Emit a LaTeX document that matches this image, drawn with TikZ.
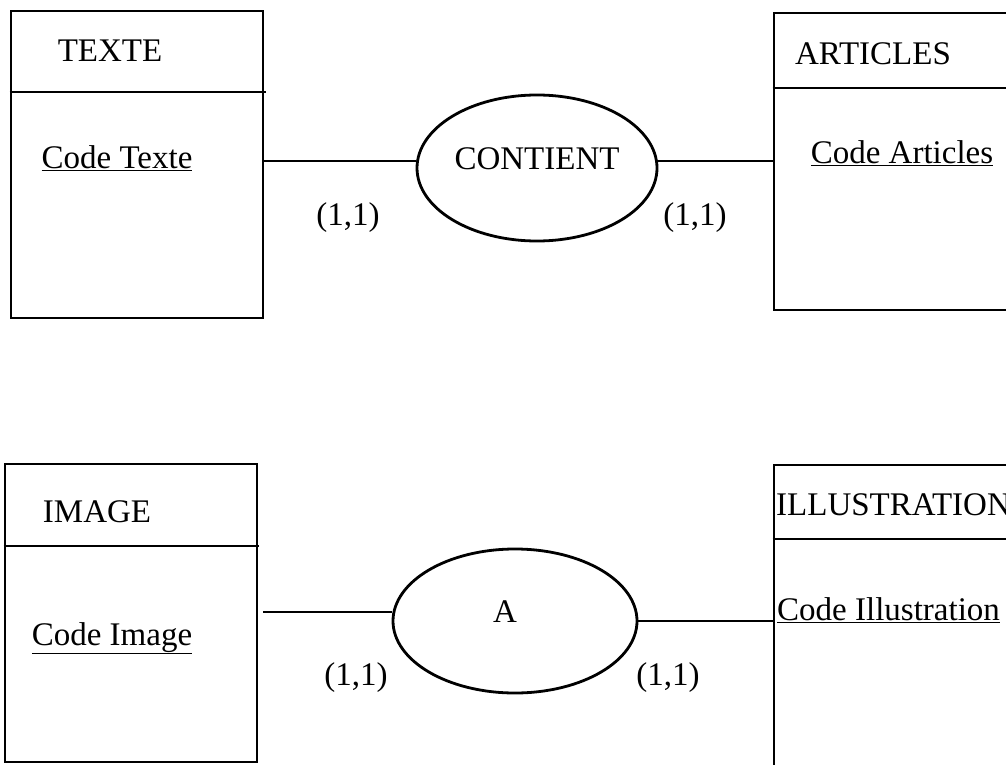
\documentclass[tikz,border=0pt]{standalone}
\usepackage{fontspec}
\setmainfont{Liberation Serif}
\usetikzlibrary{shapes.geometric}
\begin{document}
\begin{tikzpicture}[x=1pt,y=-1pt,
  every node/.style={font=\fontsize{33}{39}\selectfont, inner sep=0pt},
  entity/.style={draw, line width=2.8pt, rectangle, minimum width=#1, fill=none},
  rel/.style={draw, line width=2.8pt, ellipse},
  conn/.style={line width=2.8pt},
  hdr/.style={line width=2.8pt},
  lbl/.style={anchor=base}
]
\useasboundingbox (0,0) rectangle (1006,765);
\clip (0,0) rectangle (1006,765);
\fill[white] (0,0) rectangle (1006,765);

% entities
\node[entity=252pt, minimum height=307pt] (texte) at (137,164.5) {};
\draw[hdr] (texte.west |- 0,92) -- (266,92);
\node[lbl] (texteT) at (110,62) {TEXTE};
\node[lbl] (texteK) at (117,168) {\underline{Code Texte}};

\node[entity=266pt, minimum height=297pt] (articles) at (907,161.5) {};
\draw[hdr] (articles.west |- 0,88) -- (articles.east |- 0,88);
\node[lbl] (articlesT) at (873,65) {ARTICLES};
\node[lbl] (articlesK) at (902,163) {\underline{Code Articles}};

\node[entity=252pt, minimum height=298pt] (image) at (131,613) {};
\draw[hdr] (image.west |- 0,546) -- (259,546);
\node[lbl] (imageT) at (97,522) {IMAGE};
\node[lbl] (imageK) at (112,645) {\underline{Code Image}};

\node[entity=266pt, minimum height=335pt] (illus) at (907,632.5) {};
\draw[hdr] (illus.west |- 0,539) -- (illus.east |- 0,539);
\node[lbl, anchor=base west] (illusT) at (776,515) {ILLUSTRATION};
\node[lbl, anchor=base west] (illusK) at (777,620) {\underline{Code Illustration}};

% relations
\node[rel, minimum width=240pt, minimum height=146pt] (contient) at (537,168) {};
\node[lbl] (contientT) at (537,169) {CONTIENT};
\node[rel, minimum width=244pt, minimum height=144pt] (a) at (515,621) {};
\node[lbl] (aT) at (505,622) {A};

% connectors
\draw[conn] (texte.east |- 0,161) -- (contient.west |- 0,161);
\draw[conn] (contient.east |- 0,161) -- (articles.west |- 0,161);
\coordinate (istart) at (263,612);
\draw[conn] (istart) -- (a.west |- 0,612);
\draw[conn] (a.east |- 0,621) -- (illus.west |- 0,621);

% cardinalities
\node (c1) at (348,218) {(1,1)};
\node (c2) at (695,218) {(1,1)};
\node (c3) at (356,678) {(1,1)};
\node (c4) at (668,678) {(1,1)};
\end{tikzpicture}
\end{document}
